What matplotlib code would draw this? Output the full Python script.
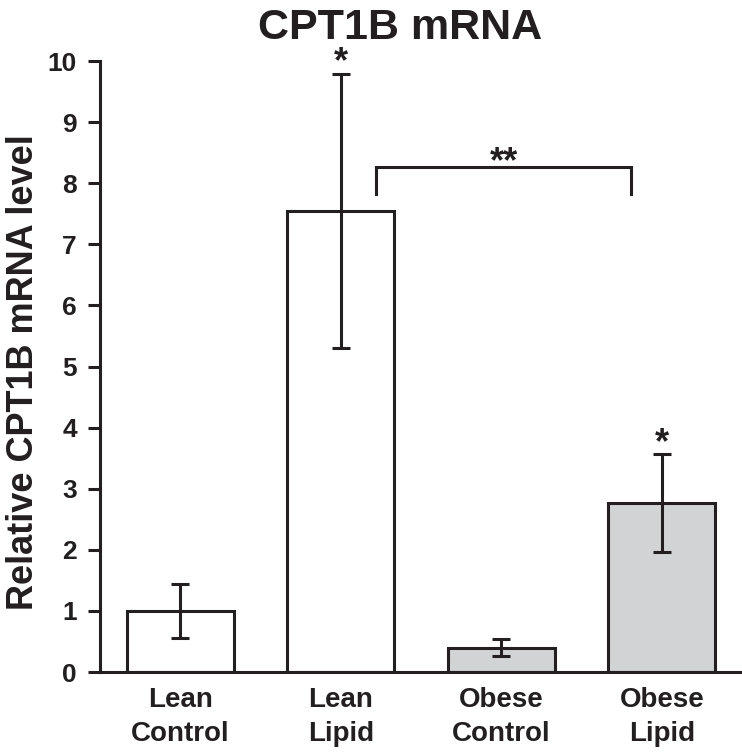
import numpy as np
import matplotlib
matplotlib.use("Agg")
import matplotlib.pyplot as plt

groups = ["Lean\nControl", "Lean\nLipid", "Obese\nControl", "Obese\nLipid"]
means = [1.00, 7.55, 0.40, 2.76]
errs = [0.44, 2.24, 0.145, 0.80]
fills = ["white", "white", "#d1d3d4", "#d1d3d4"]
stars = ["", "*", "", "*"]
yticks = [0, 1, 2, 3, 4, 5, 6, 7, 8, 9, 10]

ink = "#231f20"
plt.rcParams["font.family"] = ["Liberation Sans", "DejaVu Sans"]
plt.rcParams["font.weight"] = "bold"

fig = plt.figure(figsize=(7.42, 7.56), dpi=100)
ax = fig.add_axes([0.1348, 0.1111, 0.8652, 0.8082])

x = np.arange(len(groups))
ax.bar(x, means, width=0.667, color=fills, edgecolor=ink, linewidth=2.2, zorder=2)
ax.errorbar(x, means, yerr=errs, fmt="none", ecolor=ink, elinewidth=2.2,
            capsize=6.5, capthick=2.2, zorder=3)

for xi, m, e, s in zip(x, means, errs, stars):
    if s:
        ax.text(xi, m + e + 0.02, s, ha="center", va="baseline", fontsize=26,
                fontweight="bold", color=ink)

# significance bracket between Lean Lipid and Obese Lipid
bx0, bx1, btop, bbot = 1.22, 2.81, 8.26, 7.82
ax.plot([bx0, bx0, bx1, bx1], [bbot, btop, btop, bbot], color=ink, lw=2.2,
        solid_joinstyle="miter", zorder=3)
ax.text((bx0 + bx1) / 2, btop - 0.08, "**", ha="center", va="baseline",
        fontsize=26, fontweight="bold", color=ink)

ax.set_xlim(-0.5, 3.5)
ax.set_ylim(0, 10)
ax.set_yticks(yticks)
ax.set_xticks(x)
ax.set_xticklabels(groups, fontsize=20, fontweight="bold", color=ink, linespacing=1.4)
ax.tick_params(axis="x", length=0, pad=11)
ax.tick_params(axis="y", direction="out", length=8.6, width=2.2, color=ink,
               labelsize=19, labelcolor=ink, pad=8)
for lab in ax.get_yticklabels():
    lab.set_fontweight("bold")

for side in ["top", "right"]:
    ax.spines[side].set_visible(False)
for side in ["left", "bottom"]:
    ax.spines[side].set_linewidth(2.2)
    ax.spines[side].set_color(ink)

ax.set_ylabel("Relative CPT1B mRNA level", fontsize=26, fontweight="bold", color=ink)
ax.yaxis.set_label_coords(-0.092, 0.49)
fig.text(0.539, 0.99, "CPT1B mRNA", ha="center", va="top", fontsize=31,
         fontweight="bold", color=ink)

fig.savefig("out.png", dpi=100)
